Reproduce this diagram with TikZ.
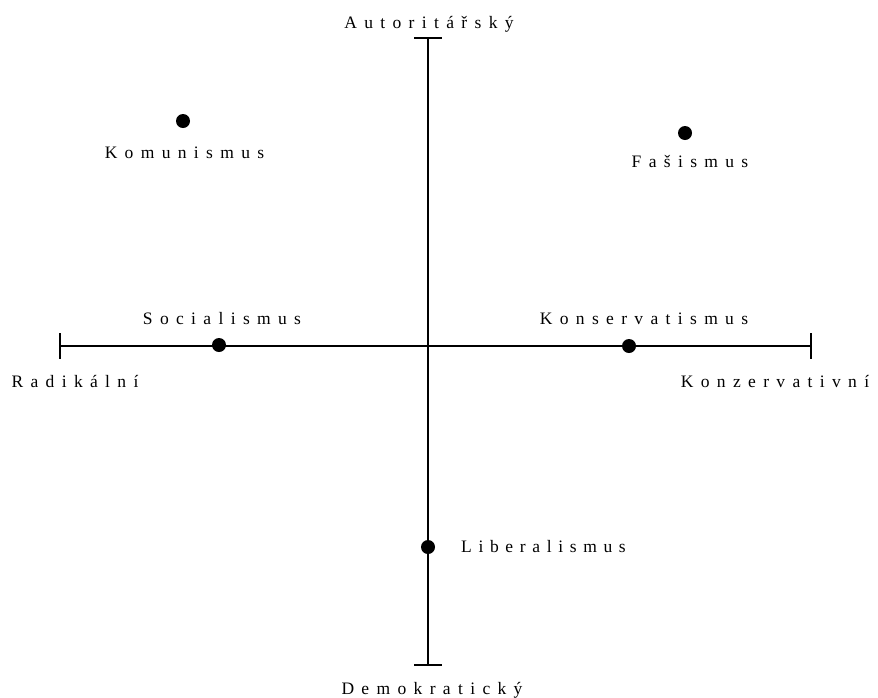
\documentclass[tikz,border=0pt]{standalone}
\usepackage{fontspec}
\setmainfont{Liberation Serif}
\newfontfamily\lsfont[LetterSpace=42]{Liberation Serif}
\newfontfamily\lsfontb[LetterSpace=38]{Liberation Serif}
\newcommand{\lstext}[1]{{\lsfont #1}}
\begin{document}
\begin{tikzpicture}[x=1pt,y=-1pt,
  axis/.style={line width=2pt},
  dot/.style={circle,fill=black,inner sep=0pt,minimum size=14pt},
  lbl/.style={inner sep=0pt,anchor=base,font=\fontsize{17.5}{20}\selectfont}]
\useasboundingbox (0,0) rectangle (878,697);
% axis end points
\coordinate (top) at (428,38);
\coordinate (bot) at (428,665);
\coordinate (lft) at (60,346);
\coordinate (rgt) at (811,346);
\coordinate (topL) at (414,38);
\coordinate (topR) at (442,38);
\coordinate (botL) at (414,665);
\coordinate (botR) at (442,665);
\coordinate (lftT) at (60,333);
\coordinate (lftB) at (60,359);
\coordinate (rgtT) at (811,333);
\coordinate (rgtB) at (811,359);
\draw[axis] (top) -- (bot);
\draw[axis] (lft) -- (rgt);
\draw[axis] (topL) -- (topR);
\draw[axis] (botL) -- (botR);
\draw[axis] (lftT) -- (lftB);
\draw[axis] (rgtT) -- (rgtB);
% dots
\node[dot] (komd) at (183,121) {};
\node[dot] (fasd) at (685,133) {};
\node[dot] (socd) at (219,345) {};
\node[dot] (kond) at (629,346) {};
\node[dot] (libd) at (428,547) {};
% labels
\node[lbl] (aut) at (429,28) {\lstext{Autoritářský}};
\node[lbl] (dem) at (432,694) {\lstext{Demokratický}};
\node[lbl] (rad) at (75,387) {\lstext{Radikální}};
\node[lbl] (kzv) at (775,387) {\lstext{Konzervativní}};
\node[lbl] (kom) at (184.5,158) {\lstext{Komunismus}};
\node[lbl] (fas) at (690,167) {\lstext{Fašismus}};
\node[lbl] (soc) at (222,324) {\lstext{Socialismus}};
\node[lbl] (kon) at (644,324) {\lstext{Konservatismus}};
\node[lbl,anchor=base west] (lib) at (461,552) {{\lsfontb Liberalismus}};
\end{tikzpicture}
\end{document}
